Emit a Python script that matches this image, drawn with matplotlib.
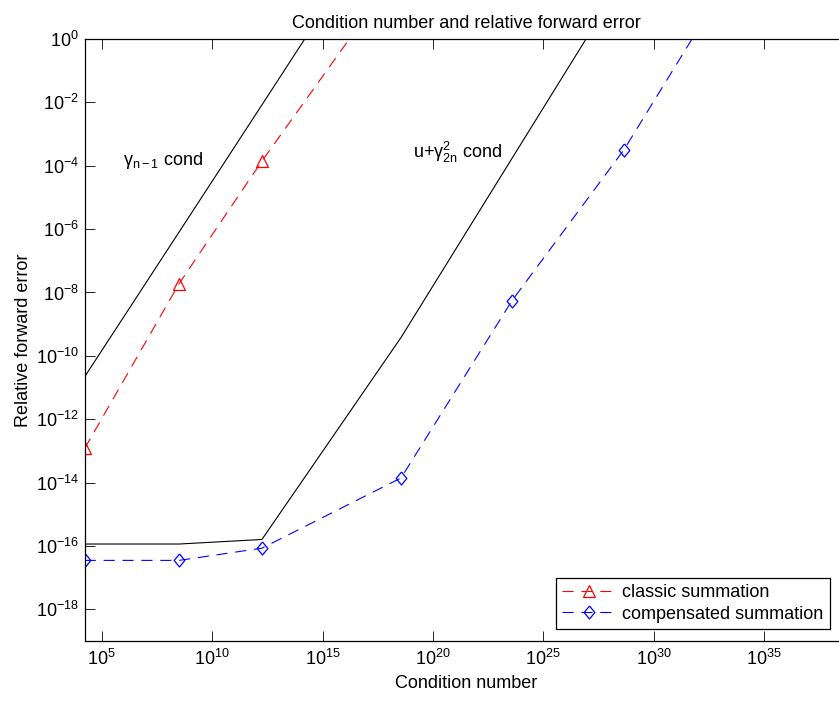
import matplotlib
matplotlib.use("Agg")
import matplotlib.pyplot as plt
from matplotlib.ticker import FixedLocator, LogFormatterSciNotation, NullLocator

plt.rcParams['font.family'] = ['Liberation Sans', 'DejaVu Sans']
plt.rcParams['mathtext.fontset'] = 'custom'
plt.rcParams['mathtext.rm'] = 'Liberation Sans'
plt.rcParams['mathtext.it'] = 'Liberation Sans:italic'
plt.rcParams['mathtext.bf'] = 'Liberation Sans:bold'
plt.rcParams['mathtext.sf'] = 'Liberation Sans'
plt.rcParams['mathtext.default'] = 'regular'

# ---- data ----
cond = [1.7e4, 3.2e8, 1.8e12, 3.6e18, 3.8e23, 4.5e28, 4.8e33]
err_classic = [1.2e-13, 1.9e-8, 1.4e-4, 1.9e2]
err_comp = [3.5e-17, 3.5e-17, 8.5e-17, 1.4e-14, 5.5e-9, 3.2e-4, 1.6e2]
bound_classic = [2.2e-11, 8.1e-7, 8.3e-3, 4.8e4]
bound_comp = [1.15e-16, 1.15e-16, 1.6e-16, 3.8e-10, 1.7e-4, 85]

xticks = [1e5, 1e10, 1e15, 1e20, 1e25, 1e30, 1e35]
yticks = [1e-18, 1e-16, 1e-14, 1e-12, 1e-10, 1e-8, 1e-6, 1e-4, 1e-2, 1e0]

labels = ['classic summation', 'compensated summation']
title = 'Condition number and relative forward error'
xlabel = 'Condition number'
ylabel = 'Relative forward error'

FS = 13
diamond = [(0, 1), (0.82, 0), (0, -1), (-0.82, 0), (0, 1)]

fig = plt.figure(figsize=(8.39, 7.01), dpi=100)
W, H = 839, 701
ax = fig.add_axes([84.5 / W, 1 - 641 / H, (848 - 84.5) / W, (641 - 39) / H])
ax.set_xscale('log')
ax.set_yscale('log')

ax.plot(cond[:len(bound_classic)], bound_classic, color='black', lw=0.8)
ax.plot(cond[:len(bound_comp)], bound_comp, color='black', lw=0.8)
ax.plot(cond[:len(err_classic)], err_classic, color='red', lw=0.8,
        linestyle=(0, (10, 7)), marker='^', ms=9, mfc='none', mec='red',
        mew=0.9, label=labels[0])
ax.plot(cond[:len(err_comp)], err_comp, color='blue', lw=0.8,
        linestyle=(0, (10, 7)), marker=diamond, ms=9.4, mfc='none', mec='blue',
        mew=0.9, label=labels[1])

ax.set_xlim(1.66e4, 10 ** 38.8)
ax.set_ylim(1e-19, 1)

ax.xaxis.set_major_locator(FixedLocator(xticks))
ax.yaxis.set_major_locator(FixedLocator(yticks))
ax.xaxis.set_minor_locator(NullLocator())
ax.yaxis.set_minor_locator(NullLocator())
ax.xaxis.set_major_formatter(LogFormatterSciNotation())
ax.yaxis.set_major_formatter(LogFormatterSciNotation())

ax.tick_params(which='major', direction='in', length=7, width=0.6,
               top=True, right=False, labelsize=FS)
ax.tick_params(axis='x', pad=6)
ax.tick_params(axis='y', pad=4)
for s in ax.spines.values():
    s.set_linewidth(0.9)

ax.text(9.2e5, 1.07e-4, r'$\gamma_{n' + '\u2212' + r'1}$ cond', fontsize=FS,
        ha='left', va='baseline')
ax.text(1.3e19, 1.8e-4, r'u+$\gamma^{2}_{2n}$ cond', fontsize=FS,
        ha='left', va='baseline')

ax.set_title(title, fontsize=FS, pad=8)
ax.set_xlabel(xlabel, fontsize=FS, labelpad=4)
ax.set_ylabel(ylabel, fontsize=FS, labelpad=3)

leg = ax.legend(loc='lower right', bbox_to_anchor=(0.9764, 0.0199),
                borderaxespad=0, fontsize=FS, fancybox=False,
                edgecolor='black', framealpha=1, handlelength=3.0,
                handletextpad=0.35, labelspacing=0.25, borderpad=0.35)
leg.get_frame().set_linewidth(0.9)

fig.savefig('out.png', dpi=100)
